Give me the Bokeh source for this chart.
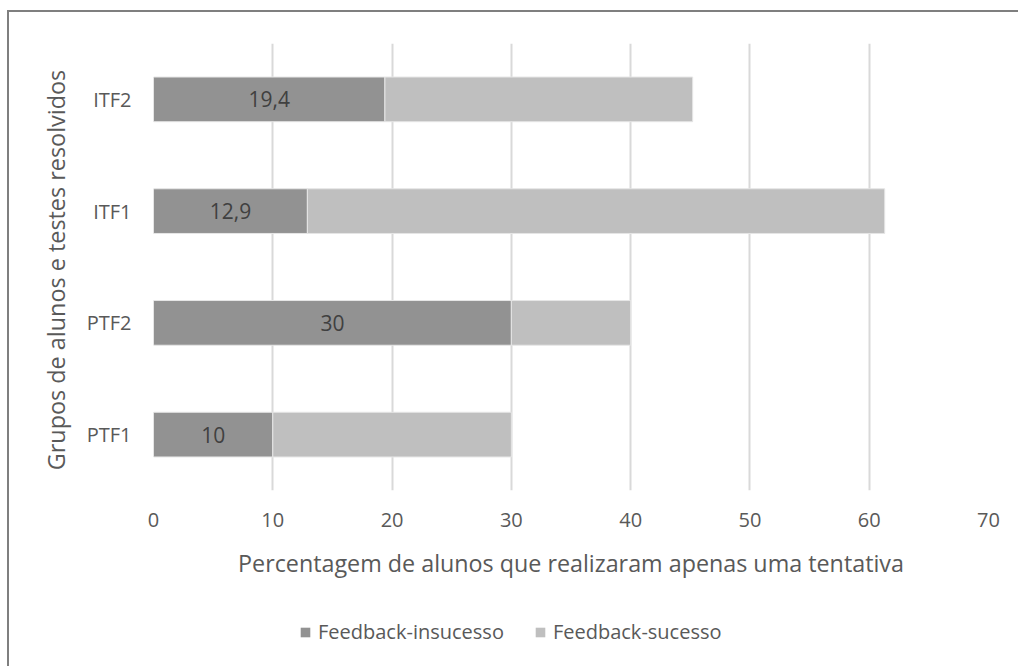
from bokeh.plotting import figure
from bokeh.layouts import column
from bokeh.models import (Range1d, FactorRange, FixedTicker, Legend, LegendItem,
                          ColumnDataSource)
from bokeh.core.properties import value
from bokeh.embed import file_html
from bokeh.resources import INLINE

# Data
grupos = ["PTF1", "PTF2", "ITF1", "ITF2"]
insucesso = [10, 30, 12.9, 19.4]
sucesso = [20, 10, 48.4, 25.8]
x_ticks = [0, 10, 20, 30, 40, 50, 60, 70]
series = ["Feedback-insucesso", "Feedback-sucesso"]

FONT = "Open Sans"
TXT = "#595959"
DARK = "#929292"
LIGHT = "#bfbfbf"

src = ColumnDataSource(dict(
    grupo=grupos,
    insucesso=insucesso,
    sucesso=sucesso,
    meio=[v / 2 for v in insucesso],
    rotulo=[f"{v:g}".replace(".", ",") for v in insucesso],
))

y_range = FactorRange(*grupos, range_padding=0)
x_range = Range1d(0, 70)

# Main chart
p = figure(
    width=1009, height=600,
    y_range=y_range, x_range=x_range,
    output_backend="svg", toolbar_location=None,
    min_border_left=144, min_border_right=30,
    min_border_top=31, min_border_bottom=122,
)

p.hbar_stack(["insucesso", "sucesso"], y="grupo", height=0.4,
             color=[DARK, LIGHT], line_color="#e6e6e6", line_width=1,
             source=src)

p.text(x="meio", y="grupo", text="rotulo", source=src,
       text_font=value(FONT), text_font_size="21px", text_color="#404040",
       text_align="center", text_baseline="middle")

p.outline_line_color = None
p.background_fill_color = "white"
p.border_fill_color = "white"

p.ygrid.grid_line_color = None
p.xgrid.grid_line_color = "#d9d9d9"
p.xgrid.grid_line_width = 2

xa = p.xaxis[0]
xa.ticker = FixedTicker(ticks=x_ticks)
xa.axis_line_color = None
xa.major_tick_line_color = None
xa.minor_tick_line_color = None
xa.major_label_text_font = FONT
xa.major_label_text_font_size = "20px"
xa.major_label_text_color = TXT
xa.major_label_standoff = 16
xa.axis_label = "Percentagem de alunos que realizaram apenas uma tentativa"
xa.axis_label_text_font = FONT
xa.axis_label_text_font_size = "23.3px"
xa.axis_label_text_font_style = "normal"
xa.axis_label_text_color = TXT
xa.axis_label_standoff = 17

ya = p.yaxis[0]
ya.axis_line_color = None
ya.major_tick_line_color = None
ya.minor_tick_line_color = None
ya.major_label_text_font = FONT
ya.major_label_text_font_size = "20px"
ya.major_label_text_color = TXT
ya.major_label_standoff = 16
ya.axis_label = "Grupos  de alunos e testes resolvidos"
ya.axis_label_text_font = FONT
ya.axis_label_text_font_size = "23.4px"
ya.axis_label_text_font_style = "normal"
ya.axis_label_text_color = TXT
ya.axis_label_standoff = 12

# Legend strip underneath the chart
lg = figure(
    width=1009, height=54,
    y_range=y_range, x_range=x_range,
    output_backend="svg", toolbar_location=None,
    x_axis_type=None, y_axis_type=None,
    min_border=0,
)
lg.grid.visible = False
lg.outline_line_color = None
lg.background_fill_color = "white"
lg.border_fill_color = "white"
keys = lg.hbar_stack(["insucesso", "sucesso"], y="grupo", height=0.4,
                     color=[DARK, LIGHT], line_color=None, source=src)
for r in keys:
    r.visible = False

legend = Legend(
    items=[LegendItem(label=series[0], renderers=[keys[0]]),
           LegendItem(label=series[1], renderers=[keys[1]])],
    orientation="horizontal",
    location=(146, 21),
    glyph_width=12, glyph_height=12,
    label_text_font=FONT, label_text_font_size="20px", label_text_color=TXT,
    label_standoff=7, spacing=30, padding=0, margin=0,
    border_line_color=None, background_fill_alpha=0,
)
lg.add_layout(legend, "center")

page = column(p, lg, spacing=0)
page.styles = {"margin-left": "7px", "margin-top": "10px",
               "border-left": "2px solid #7f7f7f", "border-top": "2px solid #7f7f7f"}

open("out.html", "w").write(file_html(page, INLINE))
